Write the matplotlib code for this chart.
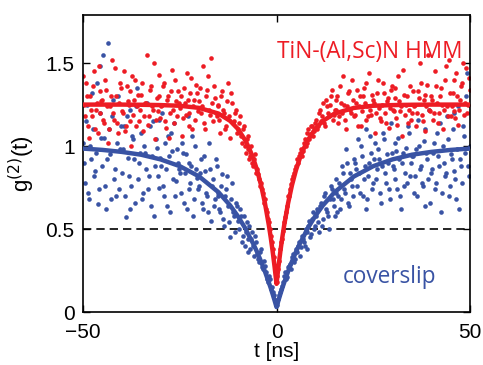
import numpy as np
import matplotlib.pyplot as plt

plt.rcParams['font.family'] = ['Liberation Sans', 'DejaVu Sans']

# time bins [ns]: whole/half bins and the quarter bins in between
t = np.arange(-50, 50.01, 0.5)
t_mid = np.arange(-49.75, 50, 0.5)

# coverslip (blue) measured g2
g2_cover = [
    1.02, 0.78, 1.25, 0.68, 0.92, 1.10, 0.85, 1.38, 0.74, 1.48,
    0.88, 1.05, 0.62, 1.62, 0.95, 1.18, 0.80, 0.70, 1.30, 0.98,
    0.84, 1.12, 0.57, 0.93, 1.22, 0.76, 1.04, 0.66, 1.35, 0.90,
    1.08, 0.72, 0.96, 1.26, 0.82, 0.64, 1.15, 0.88, 0.99, 0.75,
    0.93, 1.20, 0.70, 0.86, 1.06, 0.60, 0.97, 1.14, 0.79, 0.90,
    0.84, 1.02, 0.66, 0.95, 1.18, 0.74, 0.88, 0.58, 1.00, 0.81,
    0.76, 0.92, 0.62, 0.85, 0.70, 1.02, 0.55, 0.80, 0.68, 0.88,
    0.72, 0.60, 0.83, 0.52, 0.74, 0.64, 0.45, 0.78, 0.58, 0.66,
    0.55, 0.62, 0.42, 0.58, 0.48, 0.36, 0.52, 0.44, 0.40, 0.46,
    0.35, 0.30, 0.38, 0.26, 0.28, 0.20, 0.22, 0.14, 0.12, 0.07,
    0.04,
    0.08, 0.12, 0.16, 0.22, 0.20, 0.27, 0.29, 0.33, 0.30, 0.38,
    0.40, 0.34, 0.46, 0.42, 0.50, 0.38, 0.55, 0.47, 0.60, 0.52,
    0.62, 0.48, 0.66, 0.56, 0.72, 0.60, 0.50, 0.76, 0.68, 0.58,
    0.80, 0.70, 0.62, 0.88, 0.74, 0.98, 0.66, 0.84, 0.76, 0.92,
    0.86, 1.04, 0.72, 0.94, 0.80, 1.10, 0.68, 0.90, 0.96, 0.78,
    1.02, 0.86, 0.92, 0.66, 1.08, 0.84, 0.95, 0.74, 1.14, 0.88,
    0.80, 0.97, 1.05, 0.70, 0.90, 0.76, 0.99, 1.12, 0.82, 0.94,
    0.72, 0.98, 1.16, 0.86, 0.78, 1.03, 0.64, 0.92, 1.22, 0.84,
    0.96, 0.74, 1.08, 0.88, 0.60, 1.00, 0.82, 1.18, 0.70, 0.95,
    1.10, 0.85, 0.68, 1.24, 0.92, 0.78, 1.06, 1.30, 0.88, 1.00,
]
g2_cover_mid = [
    0.90, 1.15, 0.72, 1.00, 1.32, 0.82, 0.96, 0.65, 1.20, 1.05,
    1.55, 0.76, 0.92, 1.10, 0.68, 1.28, 0.86, 1.02, 0.74, 1.12,
    0.98, 0.70, 1.18, 0.82, 0.62, 1.06, 0.92, 1.24, 0.80, 0.96,
    0.68, 1.00, 0.86, 0.74, 1.12, 0.94, 0.58, 1.04, 0.82, 1.16,
    0.88, 0.76, 1.02, 0.64, 0.94, 1.08, 0.80, 0.70, 0.98, 0.86,
    0.72, 0.96, 0.84, 0.62, 0.90, 0.78, 1.06, 0.68, 0.86, 0.74,
    0.84, 0.66, 0.94, 0.72, 0.60, 0.86, 0.76, 0.64, 0.92, 0.70,
    0.62, 0.76, 0.56, 0.70, 0.82, 0.54, 0.68, 0.60, 0.48, 0.64,
    0.50, 0.58, 0.46, 0.40, 0.54, 0.44, 0.38, 0.48, 0.34, 0.42,
    0.32, 0.36, 0.27, 0.31, 0.24, 0.18, 0.20, 0.15, 0.10, 0.05,
    0.06, 0.10, 0.14, 0.18, 0.24, 0.21, 0.28, 0.26, 0.35, 0.32,
    0.36, 0.42, 0.39, 0.44, 0.40, 0.48, 0.52, 0.45, 0.56, 0.50,
    0.58, 0.54, 0.64, 0.52, 0.70, 0.62, 0.58, 0.68, 0.74, 0.64,
    0.72, 0.60, 0.78, 0.68, 0.84, 0.72, 0.90, 0.64, 0.80, 0.70,
    0.90, 0.76, 0.84, 1.00, 0.70, 0.88, 0.62, 0.82, 1.06, 0.74,
    0.92, 0.80, 0.98, 0.72, 0.88, 1.04, 0.78, 0.90, 0.68, 0.96,
    0.86, 1.02, 0.74, 0.92, 0.62, 0.96, 0.84, 0.78, 1.08, 0.90,
    0.94, 0.82, 0.70, 1.00, 0.88, 0.76, 1.10, 0.96, 0.80, 0.66,
    0.86, 1.02, 0.78, 0.94, 1.14, 0.72, 0.90, 0.84, 1.04, 0.76,
    0.92, 1.20, 0.80, 0.98, 0.62, 0.88, 1.12, 0.96, 1.44, 0.82,
]

# TiN-(Al,Sc)N HMM (red) measured g2
g2_hmm = [
    1.42, 1.18, 1.30, 1.05, 1.22, 1.36, 1.10, 1.26, 1.48, 1.20,
    1.28, 1.14, 1.34, 1.02, 1.24, 1.52, 1.16, 1.30, 1.08, 1.38,
    1.21, 1.45, 1.12, 1.27, 1.33, 1.00, 1.19, 1.40, 1.24, 1.15,
    1.31, 1.09, 1.26, 1.55, 1.18, 1.36, 1.22, 1.04, 1.29, 1.43,
    1.17, 1.25, 1.38, 1.11, 1.30, 1.20, 1.46, 1.14, 1.27, 1.33,
    1.23, 1.06, 1.35, 1.19, 1.28, 1.12, 1.41, 1.24, 1.16, 1.32,
    1.27, 1.20, 1.48, 1.10, 1.34, 1.22, 1.53, 1.15, 1.29, 1.18,
    1.24, 1.08, 1.33, 1.20, 1.12, 1.38, 1.05, 1.26, 1.15, 1.22,
    1.10, 1.18, 1.02, 1.12, 0.96, 1.06, 0.92, 1.00, 0.88, 0.95,
    0.86, 0.80, 0.78, 0.72, 0.68, 0.60, 0.54, 0.46, 0.38, 0.28,
    0.18,
    0.26, 0.38, 0.44, 0.54, 0.60, 0.70, 0.74, 0.80, 0.84, 0.88,
    0.90, 0.96, 0.94, 1.02, 1.00, 1.08, 1.04, 1.12, 1.06, 1.14,
    1.10, 1.20, 1.15, 1.26, 1.12, 1.24, 1.18, 1.30, 1.16, 1.22,
    1.28, 1.14, 1.36, 1.20, 1.25, 1.10, 1.32, 1.22, 1.40, 1.18,
    1.26, 1.12, 1.30, 1.21, 1.35, 1.16, 1.24, 1.44, 1.19, 1.28,
    1.08, 1.32, 1.23, 1.15, 1.38, 1.20, 1.27, 1.11, 1.34, 1.22,
    1.29, 1.17, 1.42, 1.21, 1.06, 1.31, 1.25, 1.14, 1.36, 1.20,
    1.24, 1.12, 1.33, 1.50, 1.19, 1.28, 1.09, 1.37, 1.22, 1.30,
    1.16, 1.45, 1.26, 1.20, 1.35, 1.10, 1.40, 1.24, 1.52, 1.18,
    1.32, 1.21, 1.44, 1.13, 1.28, 1.38, 1.19, 1.47, 1.25, 1.34,
]
g2_hmm_mid = [
    1.25, 1.38, 1.12, 1.30, 1.18, 1.45, 1.22, 1.08, 1.33, 1.27,
    1.16, 1.40, 1.24, 1.10, 1.30, 1.20, 1.47, 1.14, 1.26, 1.35,
    1.20, 1.09, 1.36, 1.25, 1.15, 1.42, 1.28, 1.12, 1.31, 1.22,
    1.38, 1.18, 1.26, 1.13, 1.34, 1.24, 1.50, 1.16, 1.21, 1.30,
    1.24, 1.36, 1.15, 1.28, 1.05, 1.33, 1.22, 1.40, 1.18, 1.26,
    1.30, 1.17, 1.26, 1.44, 1.20, 1.32, 1.10, 1.28, 1.37, 1.21,
    1.35, 1.24, 1.14, 1.30, 1.42, 1.19, 1.26, 1.36, 1.20, 1.25,
    1.16, 1.30, 1.22, 1.10, 1.27, 1.18, 1.32, 1.14, 1.20, 1.08,
    1.14, 1.06, 1.10, 1.00, 1.04, 0.98, 0.94, 0.90, 0.92, 0.84,
    0.83, 0.76, 0.74, 0.66, 0.62, 0.56, 0.50, 0.42, 0.33, 0.22,
    0.22, 0.31, 0.42, 0.49, 0.57, 0.64, 0.70, 0.77, 0.82, 0.86,
    0.92, 0.94, 0.98, 0.97, 1.04, 1.02, 1.10, 1.07, 1.12, 1.09,
    1.16, 1.12, 1.22, 1.18, 1.14, 1.28, 1.20, 1.25, 1.34, 1.19,
    1.22, 1.30, 1.18, 1.26, 1.42, 1.16, 1.24, 1.33, 1.20, 1.28,
    1.19, 1.34, 1.24, 1.12, 1.30, 1.26, 1.38, 1.18, 1.22, 1.31,
    1.26, 1.20, 1.40, 1.17, 1.25, 1.32, 1.14, 1.29, 1.23, 1.36,
    1.21, 1.35, 1.13, 1.27, 1.24, 1.46, 1.19, 1.30, 1.22, 1.16,
    1.33, 1.25, 1.20, 1.29, 1.38, 1.15, 1.31, 1.24, 1.55, 1.21,
    1.28, 1.20, 1.36, 1.14, 1.30, 1.25, 1.22, 1.48, 1.18, 1.32,
    1.24, 1.40, 1.17, 1.30, 1.22, 1.36, 1.50, 1.26, 1.20, 1.41,
]

# fit curves
t_fit = [-50, -45, -40, -35, -30, -25, -20, -15, -12, -10, -8, -7, -6, -5, -4, -3,
         -2, -1.5, -1, -0.5, 0, 0.5, 1, 1.5, 2, 3, 4, 5, 6, 7, 8, 10, 12, 15,
         20, 25, 30, 35, 40, 45, 50]
fit_cover = [0.985, 0.977, 0.965, 0.948, 0.920, 0.879, 0.817, 0.722, 0.643, 0.578,
             0.502, 0.455, 0.411, 0.361, 0.305, 0.245, 0.179, 0.145, 0.108, 0.07,
             0.03, 0.07, 0.108, 0.145, 0.179, 0.245, 0.305, 0.361, 0.411, 0.455,
             0.502, 0.578, 0.643, 0.722, 0.817, 0.879, 0.920, 0.948, 0.965, 0.977,
             0.985]
fit_hmm = [1.25, 1.25, 1.25, 1.249, 1.247, 1.243, 1.230, 1.196, 1.152, 1.104,
           1.032, 0.983, 0.925, 0.853, 0.765, 0.657, 0.526, 0.450, 0.366, 0.273,
           0.17, 0.273, 0.366, 0.450, 0.526, 0.657, 0.765, 0.853, 0.925, 0.983,
           1.032, 1.104, 1.152, 1.196, 1.230, 1.243, 1.247, 1.249, 1.25, 1.25,
           1.25]

red = '#ED1C24'
blue = '#3953A4'

fig = plt.figure(figsize=(4.83, 3.65), dpi=100)
ax = fig.add_axes([0.172, 0.145, 0.801, 0.814])

ax.scatter(t, g2_cover, s=11, color=blue, linewidths=0, zorder=2)
ax.scatter(t_mid, g2_cover_mid, s=11, color=blue, linewidths=0, zorder=2)
ax.scatter(t, g2_hmm, s=11, color=red, linewidths=0, zorder=2)
ax.scatter(t_mid, g2_hmm_mid, s=11, color=red, linewidths=0, zorder=2)
ax.plot(t_fit, fit_cover, color=blue, lw=3.2, zorder=3)
ax.plot(t_fit, fit_hmm, color=red, lw=3.2, zorder=4)
ax.axhline(0.5, color='black', ls=(0, (5, 3)), lw=1.2, zorder=1)

ax.set_xlim(-50, 50)
ax.set_ylim(0, 1.79)
ax.set_xticks([-50, 0, 50])
ax.set_xticklabels(['\u221250', '0', '50'])
ax.set_yticks([0, 0.5, 1, 1.5])
ax.set_yticklabels(['0', '0.5', '1', '1.5'])
ax.tick_params(direction='in', length=5, width=1, top=True, right=True,
               labelsize=15)
ax.tick_params(axis='x', pad=8)
ax.tick_params(axis='y', pad=6)
for sp in ax.spines.values():
    sp.set_linewidth(1.2)

ax.set_xlabel('t [ns]', fontsize=15, labelpad=0)
ax.set_ylabel('g$^{(2)}$(t)', fontsize=16, labelpad=6)

ax.text(0.501, 0.875, 'TiN-(Al,Sc)N HMM', transform=ax.transAxes, color=red,
        fontsize=16.3, family=['Open Sans', 'DejaVu Sans'], ha='left', va='center')
ax.text(0.672, 0.118, 'coverslip', transform=ax.transAxes, color=blue,
        fontsize=16.3, family=['Open Sans', 'DejaVu Sans'], ha='left', va='center')

fig.savefig('out.png', dpi=100)
